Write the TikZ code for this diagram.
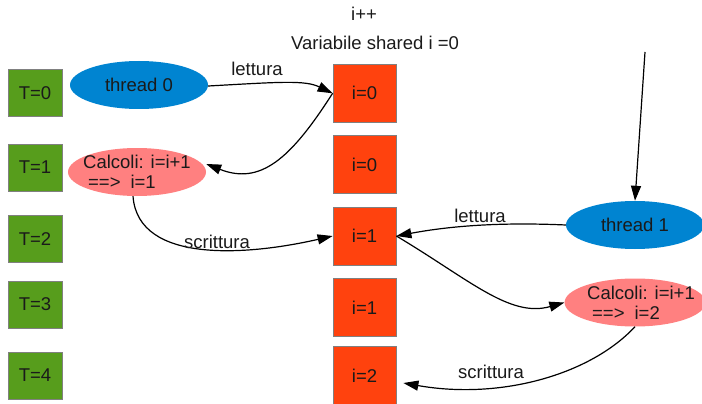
\documentclass[tikz,border=0pt]{standalone}
\usepackage{fontspec}
\setmainfont{Liberation Sans}
\usetikzlibrary{arrows.meta,shapes.geometric}
\definecolor{tgreen}{HTML}{579D1C}
\definecolor{vorange}{HTML}{FF420E}
\definecolor{tblue}{HTML}{0084D1}
\definecolor{cpink}{HTML}{FF8080}
\definecolor{ink}{HTML}{1A1A1A}
\begin{document}
\begin{tikzpicture}[x=1pt,y=-1pt,
  font=\fontsize{18.5}{20}\selectfont, text=ink,
  timebox/.style={draw=gray, line width=0.8pt, fill=tgreen, minimum width=54pt, minimum height=47pt, inner sep=0pt},
  valbox/.style={draw=gray, line width=0.8pt, fill=vorange, minimum width=63pt, minimum height=58pt, inner sep=0pt},
  thr/.style={ellipse, fill=tblue, minimum width=138pt, minimum height=48pt, inner sep=0pt},
  calc/.style={ellipse, fill=cpink, minimum width=138pt, minimum height=48pt, inner sep=-10pt, align=left},
  conn/.style={line width=1.2pt, -{Triangle[length=15pt,width=10pt]}},
  lab/.style={inner sep=0pt}]
\useasboundingbox (0,0) rectangle (702,404);

% headings
\node[lab] (title) at (364,14) {i++};
\node[lab] (shared) at (375,43) {Variabile shared i =0};

% time steps
\node[timebox] (t0) at (35,93) {T=0};
\node[timebox] (t1) at (35,167.5) {T=1};
\node[timebox] (t2) at (35,239) {T=2};
\node[timebox] (t3) at (35,304.5) {T=3};
\node[timebox] (t4) at (35,375.5) {T=4};

% value of the shared variable at each step
\node[valbox] (v0) at (364.5,93.3) {i=0};
\node[valbox] (v1) at (364.5,164.5) {i=0};
\node[valbox] (v2) at (364.5,236) {i=1};
\node[valbox] (v3) at (364.5,307.5) {i=1};
\node[valbox] (v4) at (364.5,375.5) {i=2};

% threads and their computations
\node[thr] (th0) at (139,85) {thread 0};
\node[calc] (c0) at (137,172) {Calcoli: i=i+1\\\hspace{5pt}==>\hspace{10pt}i=1};
\node[thr] (th1) at (635,225) {thread 1};
\node[calc] (c1) at (635,302.5) {\hspace{12pt}Calcoli: i=i+1\\\hspace{17pt}==>\hspace{10pt}i=2};
\coordinate (start1) at (645,52);

% thread 0
\draw[conn] ([yshift=-1pt]th0.east) .. controls (280,82) and (305,80) .. (v0.west);
\draw[conn] (v0.west) .. controls (290,160) and (260,185) .. ([yshift=8pt]c0.east);
\draw[conn] ([xshift=-4pt]c0.south) .. controls (138,265) and (250,255) .. (v2.west);
\node[lab] (l0) at (257,69) {lettura};
\node[lab] (s0) at (217,242) {scrittura};

% thread 1
\draw[conn] (start1) -- (th1.north);
\draw[conn] (th1.west) .. controls (500,222) and (450,226) .. (v2.east);
\draw[conn] (v2.east) .. controls (470,280) and (510,318) .. (c1.west);
\draw[conn] (c1.south) .. controls (590,375) and (500,400) .. ([shift={(7pt,-7.5pt)}]v4.east);
\node[lab] (l1) at (480,216) {lettura};
\node[lab] (s1) at (491,372) {scrittura};
\end{tikzpicture}
\end{document}
